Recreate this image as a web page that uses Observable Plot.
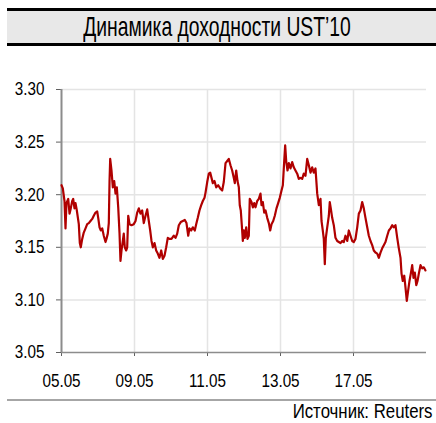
<!DOCTYPE html>
<html><head><meta charset="utf-8">
<script src="https://cdn.jsdelivr.net/npm/d3@7"></script>
<script src="https://cdn.jsdelivr.net/npm/@observablehq/plot@0.6"></script>
<style>
body{margin:0;background:#fff;width:436px;height:423px;position:relative;overflow:hidden;font-family:"Liberation Sans",Arial,sans-serif;color:#000;}
#title{position:absolute;left:7px;top:8px;width:429px;height:32px;border-top:3px solid #000;border-bottom:3px solid #000;background:#e8e8e8;text-align:center;font-size:28px;line-height:32px;white-space:nowrap;}
#title span{display:inline-block;margin-right:10px;transform:scaleX(0.69);transform-origin:50% 50%;}
#chart{position:absolute;left:0;top:50px;}
#rule{position:absolute;left:7px;top:399px;width:429px;height:2px;background:#a6a6a6;}
#caption{position:absolute;right:3px;top:401px;font-size:20px;line-height:20px;white-space:nowrap;transform:scaleX(0.84);transform-origin:100% 50%;}
</style></head>
<body>
<div id="title"><span>Динамика доходности UST’10</span></div>
<div id="chart"></div>
<div id="rule"></div>
<div id="caption">Источник: Reuters</div>
<script>
// trading-time index (1 unit = one tick interval) and UST10 yield, %
const timeIndex = [0,0.018,0.041,0.055,0.068,0.092,0.110,0.127,0.147,0.160,0.178,0.192,0.210,0.237,0.251,0.264,0.284,0.305,0.329,0.352,0.374,0.397,0.421,0.442,0.466,0.489,0.503,0.521,0.538,0.558,0.579,0.603,0.616,0.634,0.648,0.658,0.667,0.685,0.703,0.722,0.740,0.758,0.777,0.795,0.808,0.822,0.840,0.853,0.867,0.886,0.900,0.914,0.932,0.959,0.990,1.014,1.037,1.059,1.082,1.105,1.127,1.151,1.174,1.196,1.215,1.233,1.251,1.274,1.297,1.319,1.342,1.366,1.388,1.411,1.434,1.456,1.479,1.507,1.538,1.562,1.585,1.607,1.634,1.662,1.689,1.712,1.736,1.753,1.777,1.799,1.826,1.845,1.867,1.890,1.914,1.936,1.959,1.973,1.996,2.018,2.037,2.055,2.073,2.096,2.119,2.147,2.174,2.201,2.223,2.247,2.270,2.292,2.315,2.338,2.360,2.374,2.393,2.411,2.429,2.442,2.456,2.470,2.484,2.497,2.511,2.530,2.548,2.566,2.579,2.603,2.621,2.640,2.658,2.681,2.703,2.726,2.740,2.758,2.777,2.795,2.818,2.840,2.859,2.877,2.900,2.922,2.945,2.968,2.990,3.014,3.032,3.051,3.064,3.078,3.096,3.114,3.137,3.160,3.182,3.205,3.229,3.251,3.274,3.297,3.319,3.342,3.366,3.388,3.411,3.434,3.456,3.479,3.503,3.525,3.548,3.562,3.579,3.593,3.607,3.621,3.640,3.662,3.675,3.689,3.708,3.730,3.753,3.777,3.799,3.822,3.845,3.867,3.890,3.914,3.936,3.959,3.982,4.004,4.027,4.051,4.073,4.096,4.119,4.141,4.164,4.188,4.210,4.233,4.256,4.278,4.301,4.325,4.347,4.370,4.393,4.415,4.438,4.462,4.484,4.507,4.530,4.552,4.575,4.599,4.621,4.644,4.658,4.675,4.695,4.712,4.730,4.749,4.767,4.785,4.804,4.822,4.840,4.860,4.877,4.895,4.918,4.941,4.963,4.986];
const yields = [3.209,3.206,3.194,3.168,3.192,3.196,3.182,3.187,3.194,3.196,3.187,3.192,3.185,3.172,3.154,3.150,3.158,3.164,3.168,3.172,3.173,3.175,3.177,3.180,3.183,3.184,3.178,3.169,3.166,3.168,3.161,3.155,3.158,3.163,3.173,3.213,3.234,3.223,3.207,3.213,3.201,3.207,3.188,3.163,3.137,3.147,3.156,3.163,3.150,3.147,3.150,3.180,3.172,3.171,3.172,3.175,3.183,3.187,3.182,3.185,3.173,3.180,3.186,3.175,3.166,3.156,3.150,3.154,3.147,3.144,3.140,3.147,3.139,3.142,3.150,3.159,3.158,3.158,3.161,3.159,3.163,3.171,3.174,3.175,3.176,3.173,3.161,3.168,3.166,3.169,3.166,3.172,3.178,3.185,3.190,3.194,3.197,3.202,3.212,3.220,3.221,3.216,3.211,3.213,3.207,3.209,3.206,3.204,3.212,3.230,3.232,3.234,3.228,3.223,3.216,3.211,3.223,3.213,3.207,3.190,3.185,3.171,3.156,3.166,3.159,3.169,3.158,3.161,3.196,3.193,3.188,3.192,3.188,3.194,3.196,3.201,3.190,3.193,3.183,3.185,3.178,3.173,3.166,3.172,3.175,3.180,3.187,3.192,3.197,3.204,3.209,3.232,3.247,3.232,3.223,3.230,3.225,3.231,3.226,3.223,3.220,3.215,3.216,3.215,3.220,3.218,3.234,3.228,3.221,3.226,3.221,3.225,3.201,3.190,3.196,3.175,3.166,3.158,3.134,3.159,3.169,3.180,3.193,3.187,3.178,3.171,3.159,3.156,3.155,3.154,3.156,3.155,3.161,3.156,3.166,3.161,3.156,3.155,3.158,3.169,3.182,3.185,3.193,3.187,3.178,3.169,3.161,3.156,3.152,3.147,3.145,3.144,3.140,3.145,3.149,3.152,3.155,3.161,3.166,3.168,3.171,3.169,3.171,3.159,3.149,3.140,3.125,3.118,3.123,3.112,3.099,3.109,3.118,3.125,3.133,3.121,3.126,3.114,3.118,3.125,3.133,3.130,3.131,3.128];
const xTickPos = [0,1,2,3,4];
const xTickLabels = ["05.05","09.05","11.05","13.05","17.05"];
const yTicks = [3.05,3.10,3.15,3.20,3.25,3.30];

const data = timeIndex.map((t,i)=>({t, y: yields[i]}));
const font = '"Liberation Sans",Arial,sans-serif';
const chart = Plot.plot({
  width: 436, height: 342,
  marginLeft: 61, marginRight: 10, marginTop: 39, marginBottom: 40,
  style: {fontFamily: font, fontSize: "18.6px", color: "#000", background: "transparent", overflow: "visible"},
  x: {domain: [0,5]},
  y: {domain: [3.05,3.30]},
  marks: [
    Plot.gridX(xTickPos.slice(1), {stroke: "#e4e4e4", strokeOpacity: 1, strokeWidth: 1.5}),
    Plot.gridY(yTicks.slice(1), {stroke: "#e4e4e4", strokeOpacity: 1, strokeWidth: 1.5}),
    Plot.axisY(yTicks, {label: null, tickSize: 5, tickPadding: 12, tickFormat: d3.format(".2f"), stroke: "#606060", fontSize: 18.6}),
    Plot.axisX(xTickPos, {label: null, tickSize: 4, tickPadding: 17, tickFormat: d => xTickLabels[xTickPos.indexOf(d)], stroke: "#606060", fontSize: 18.6}),
    Plot.ruleX([0], {stroke: "#8c8c8c", strokeWidth: 2}),
    Plot.ruleY([3.05], {stroke: "#8c8c8c", strokeWidth: 1.5}),
    Plot.line(data, {x: "t", y: "y", stroke: "#b00000", strokeWidth: 2.2, strokeLinejoin: "round"})
  ]
});
document.getElementById("chart").appendChild(chart);
// condense tick labels horizontally like the reference typeface
chart.querySelectorAll("text").forEach(t => {
  const w = t.getComputedTextLength();
  if (w > 0) { t.setAttribute("textLength", (w * 0.82).toFixed(1)); t.setAttribute("lengthAdjust", "spacingAndGlyphs"); }
});
</script>
</body></html>
